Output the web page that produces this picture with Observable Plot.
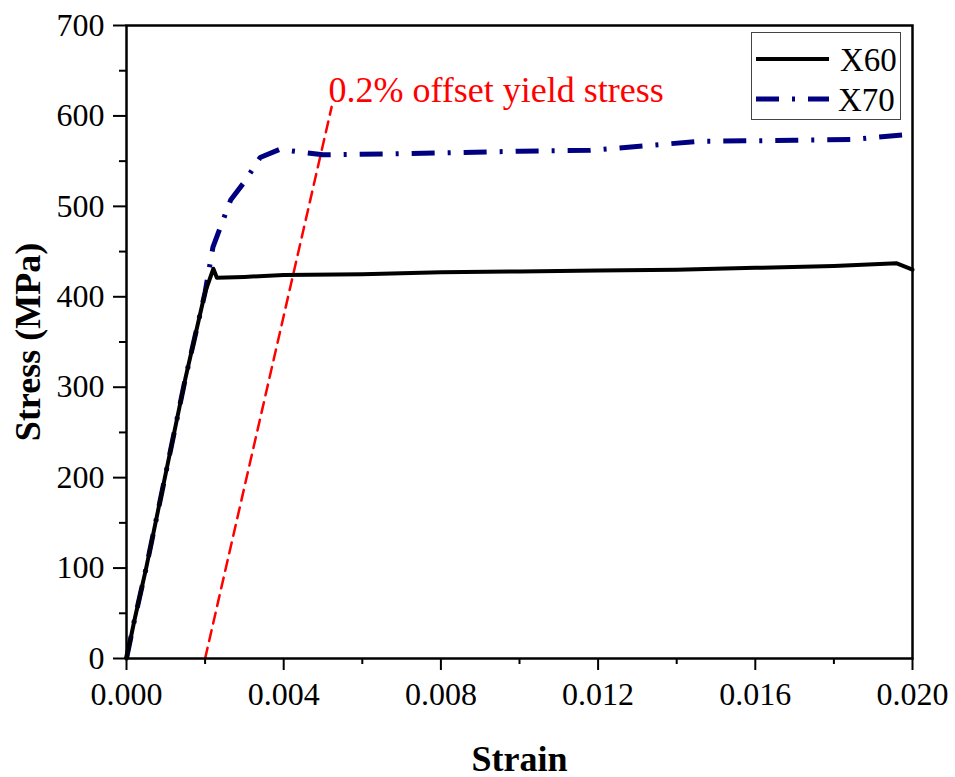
<!DOCTYPE html>
<html>
<head>
<meta charset="utf-8">
<script src="https://cdn.jsdelivr.net/npm/d3@7"></script>
<script src="https://cdn.jsdelivr.net/npm/@observablehq/plot@0.6"></script>
<style>
  html, body { margin: 0; padding: 0; background: #fff; }
  #wrap { position: relative; width: 955px; height: 777px; }
  #legend { position: absolute; left: 751px; top: 32px; width: 150px; height: 88px;
            border: 1px solid #444; background: #fff; box-sizing: border-box;
            font-family: "Liberation Serif", "Times New Roman", serif; font-size: 33px; }
  #legend svg { position: absolute; left: 0; top: 0; }
</style>
</head>
<body>
<div id="wrap"></div>
<script>
// ---- data ----
const x60Strain = [0, 0.0002, 0.0005, 0.0010, 0.0015, 0.0020, 0.00221, 0.0023, 0.0030, 0.0040, 0.0060, 0.0080, 0.0100, 0.0120, 0.0140, 0.0160, 0.0180, 0.0196, 0.0200];
const x60Stress = [0, 42, 100, 205, 310, 405, 431, 421, 422, 424, 425, 427, 428, 429, 430, 432, 434, 437, 430];

const x70Strain = [0, 0.0002, 0.0005, 0.0010, 0.0015, 0.0020, 0.0021, 0.0022, 0.00265, 0.0030, 0.0034, 0.0039, 0.0050, 0.0080, 0.0100, 0.0118, 0.0146, 0.0170, 0.0185, 0.0200];
const x70Stress = [0, 42, 100, 205, 310, 405, 430, 455, 507, 527, 554, 563, 557, 559, 561, 562, 572, 573, 574, 580];

const offsetStrain = [0.0020, 0.00522];
const offsetStress = [0, 610];

const annotationText = ["0.2% offset yield stress"];
const annotationStrain = [0.00514];
const annotationStress = [615];

const xMajorTicks = [0, 0.004, 0.008, 0.012, 0.016, 0.020];
const xMinorTicks = [0.002, 0.006, 0.010, 0.014, 0.018];
const yMajorTicks = [0, 100, 200, 300, 400, 500, 600, 700];
const yMinorTicks = [50, 150, 250, 350, 450, 550, 650];

const seriesNames = ["X60", "X70"];
const xLabel = "Strain";
const yLabel = "Stress (MPa)";

// ---- build tables ----
const x60 = x60Strain.map((s, i) => ({strain: s, stress: x60Stress[i]}));
const x70 = x70Strain.map((s, i) => ({strain: s, stress: x70Stress[i]}));
const offset = offsetStrain.map((s, i) => ({strain: s, stress: offsetStress[i]}));
const annotation = annotationText.map((t, i) => ({text: t, strain: annotationStrain[i], stress: annotationStress[i]}));

const FONT = "Liberation Serif";
const X70_COLOR = "#000080";
const X70_DASH = "23,13,3,13";

const chart = Plot.plot({
  width: 955,
  height: 777,
  marginLeft: 126,
  marginRight: 43,
  marginTop: 25,
  marginBottom: 119,
  style: {fontFamily: FONT, fontSize: "32px", color: "#000", background: "#fff"},
  x: {domain: [0, 0.02]},
  y: {domain: [0, 700]},
  marks: [
    Plot.line(offset, {x: "strain", y: "stress", stroke: "#ff0000", strokeWidth: 2.5, strokeDasharray: "11,7"}),
    Plot.line(x70, {x: "strain", y: "stress", stroke: X70_COLOR, strokeWidth: 5, strokeDasharray: X70_DASH, strokeLinecap: "butt"}),
    Plot.line(x60, {x: "strain", y: "stress", stroke: "#000", strokeWidth: 4}),
    Plot.text(annotation, {x: "strain", y: "stress", text: "text", fill: "#ff0000", textAnchor: "start", lineAnchor: "bottom", fontSize: 36}),
    Plot.axisX({ticks: xMajorTicks, tickSize: 12, tickPadding: 12, tickFormat: d3.format(".3f"), strokeWidth: 2, label: null, fontSize: 32}),
    Plot.axisX({ticks: xMinorTicks, tickSize: 6, strokeWidth: 2, text: null, label: null}),
    Plot.axisY({ticks: yMajorTicks, tickSize: 13, tickPadding: 9, strokeWidth: 2, label: null, fontSize: 32}),
    Plot.axisY({ticks: yMinorTicks, tickSize: 7, strokeWidth: 2, text: null, label: null}),
    Plot.frame({stroke: "#000", strokeWidth: 2.5}),
    Plot.text([xLabel], {frameAnchor: "bottom", dy: 112, fontWeight: "bold", fontSize: 36}),
    Plot.text([yLabel], {frameAnchor: "left", rotate: -90, dx: -98, textAnchor: "middle", lineAnchor: "middle", fontWeight: "bold", fontSize: 36})
  ]
});

const wrap = document.getElementById("wrap");
wrap.appendChild(chart);

// legend overlay
const legend = document.createElement("div");
legend.id = "legend";
const ns = "http://www.w3.org/2000/svg";
const lsvg = document.createElementNS(ns, "svg");
lsvg.setAttribute("width", 148);
lsvg.setAttribute("height", 86);
const styles = [
  {stroke: "#000", width: 4, dash: null},
  {stroke: X70_COLOR, width: 5, dash: X70_DASH}
];
seriesNames.forEach((name, i) => {
  const cy = 26 + i * 40;
  const ln = document.createElementNS(ns, "line");
  ln.setAttribute("x1", 4); ln.setAttribute("x2", 77);
  ln.setAttribute("y1", cy); ln.setAttribute("y2", cy);
  ln.setAttribute("stroke", styles[i].stroke);
  ln.setAttribute("stroke-width", styles[i].width);
  if (styles[i].dash) ln.setAttribute("stroke-dasharray", styles[i].dash);
  lsvg.appendChild(ln);
  const t = document.createElementNS(ns, "text");
  t.setAttribute("x", 88 - (i === 1 ? 2 : 0));
  t.setAttribute("y", cy + 12);
  t.setAttribute("font-family", FONT);
  t.setAttribute("font-size", 33);
  t.textContent = name;
  lsvg.appendChild(t);
});
legend.appendChild(lsvg);
wrap.appendChild(legend);
</script>
</body>
</html>
